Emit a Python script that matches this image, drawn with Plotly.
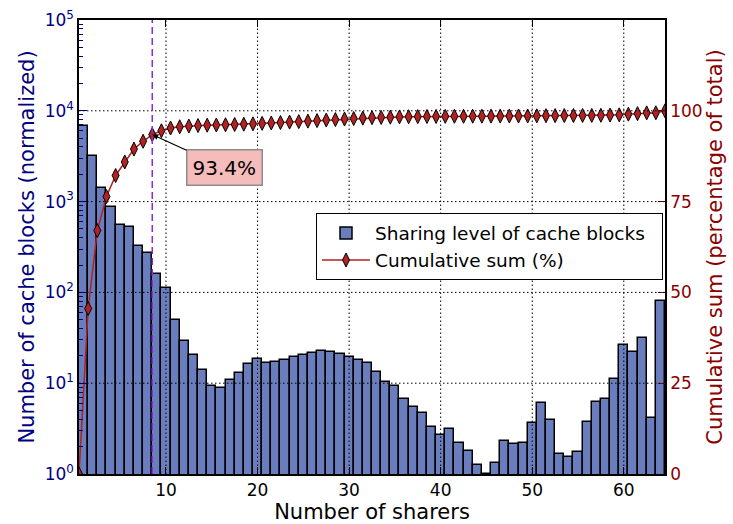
import plotly.graph_objects as go

# ---------------- data ----------------
sharers = list(range(1, 65))
blocks = [6820, 3213, 1402, 867, 558, 531, 322, 275, 158, 113,
          50, 29.5, 20.7, 13.9, 9.42, 8.80, 10.9, 12.9, 16.3, 18.4,
          16.9, 17.3, 18.1, 19.5, 20.7, 21.4, 22.5, 21.8, 20.8, 19.6,
          17.9, 16.6, 13.3, 10.4, 9.33, 6.71, 5.43, 4.67, 3.33, 2.70,
          3.16, 2.20, 1.80, 1.27, 1.0, 1.31, 2.33, 2.14, 2.22, 3.65,
          6.12, 3.94, 1.64, 1.54, 1.74, 3.78, 6.27, 6.66, 11.2, 26.6,
          22.3, 31.3, 4.15, 80.6]

cum_x = [0.5] + [s + 0.5 for s in sharers]
cum_pct = [0, 45.56, 67.03, 76.40, 82.19, 85.92, 89.46, 91.61, 93.45,
           94.51, 95.26, 95.60, 95.79, 95.93, 96.03, 96.09, 96.15, 96.22, 96.31, 96.41, 96.54,
           96.65, 96.77, 96.89, 97.02, 97.16, 97.30, 97.45, 97.59, 97.73, 97.87,
           97.98, 98.09, 98.18, 98.25, 98.32, 98.36, 98.40, 98.43, 98.45, 98.47,
           98.49, 98.50, 98.51, 98.52, 98.53, 98.54, 98.55, 98.57, 98.58, 98.61,
           98.65, 98.67, 98.69, 98.70, 98.71, 98.73, 98.77, 98.82, 98.89, 99.07,
           99.22, 99.43, 99.46, 100.0]

threshold_index = 8          # cum_x[8] == 8.5
threshold_label = "93.4%"

x_ticks = [10, 20, 30, 40, 50, 60]
y_ticks = [1, 10, 100, 1000, 10000, 100000]
y_ticktext = ["10<sup>0</sup>", "10<sup>1</sup>", "10<sup>2</sup>",
              "10<sup>3</sup>", "10<sup>4</sup>", "10<sup>5</sup>"]
y2_ticks = [0, 25, 50, 75, 100]

FONT = "DejaVu Sans"
NAVY = "#000080"
DRED = "#8b0000"

fig = go.Figure()
fig.add_trace(go.Bar(
    x=sharers, y=blocks, width=1,
    marker=dict(color="rgb(106,126,190)", line=dict(color="black", width=1.5)),
    name="Sharing level of cache blocks&nbsp;&nbsp;",
))
fig.add_trace(go.Scatter(
    x=cum_x, y=cum_pct, yaxis="y2", mode="lines+markers",
    line=dict(color="rgb(178,34,34)", width=1.5),
    marker=dict(symbol="diamond-tall", size=10, color="rgb(178,34,34)",
                line=dict(color="black", width=1)),
    name="Cumulative sum (%)",
))

shapes = []
grid_line = dict(color="black", width=1, dash="1.5px,2.5px")
for v in x_ticks:
    shapes.append(dict(type="line", xref="x", yref="paper", x0=v, x1=v, y0=0, y1=1,
                       line=grid_line, layer="above"))
for v in y_ticks[1:-1]:
    shapes.append(dict(type="line", xref="paper", yref="y", x0=0, x1=1, y0=v, y1=v,
                       line=grid_line, layer="above"))
tx = cum_x[threshold_index]
shapes.append(dict(type="line", xref="x", yref="paper", x0=tx, x1=tx, y0=0, y1=1,
                   line=dict(color="#8a2be2", width=1.5, dash="7px,4px"), layer="above"))

fig.update_layout(
    width=733, height=524,
    margin=dict(l=79, r=68, t=20, b=50),
    plot_bgcolor="white", paper_bgcolor="white",
    font=dict(family=FONT, size=17, color="black"),
    bargap=0,
    shapes=shapes,
    xaxis=dict(range=[0.5, 64.5], tickvals=x_ticks, ticks="inside", ticklen=7,
               tickcolor="black", showline=True, linecolor="black", linewidth=1.5,
               mirror="ticks", showgrid=False, zeroline=False, automargin=False,
               tickfont=dict(size=17, color="black"),
               title=dict(text="Number of sharers", font=dict(size=21, color="black"), standoff=6)),
    yaxis=dict(type="log", range=[0, 5], tickvals=y_ticks, ticktext=y_ticktext,
               ticks="inside", ticklen=8, tickcolor=NAVY, tickwidth=1,
               minor=dict(ticks="inside", ticklen=4, tickcolor=NAVY, dtick="D1", showgrid=False),
               showline=True, linecolor="black", linewidth=1.5, showgrid=False, zeroline=False,
               automargin=False,
               tickfont=dict(size=17, color=NAVY),
               title=dict(text="Number of cache blocks (normalized)", font=dict(size=21, color=NAVY),
                          standoff=4)),
    yaxis2=dict(overlaying="y", side="right", range=[0, 125], tickvals=y2_ticks,
                ticks="inside", ticklen=7, tickcolor=DRED, automargin=False,
                showline=True, linecolor="black", linewidth=1.5, showgrid=False, zeroline=False,
                tickfont=dict(size=17, color=DRED),
                title=dict(text="Cumulative sum (percentage of total)", font=dict(size=21, color=DRED),
                           standoff=6)),
    legend=dict(x=0.9966, y=0.574, xanchor="right", yanchor="top",
                bgcolor="white", bordercolor="black", borderwidth=1,
                itemwidth=48,
                font=dict(size=18.5, color="black")),
    annotations=[dict(
        x=tx, y=cum_pct[threshold_index], xref="x", yref="y2",
        text=threshold_label, showarrow=True, ax=72, ay=33,
        arrowhead=2, arrowsize=1, arrowwidth=1.2, arrowcolor="black",
        bgcolor="#f6bcbc", bordercolor="#8c8c8c", borderwidth=1.5, borderpad=5,
        font=dict(size=20, color="black"),
    )],
)

fig.write_html("out.html")
